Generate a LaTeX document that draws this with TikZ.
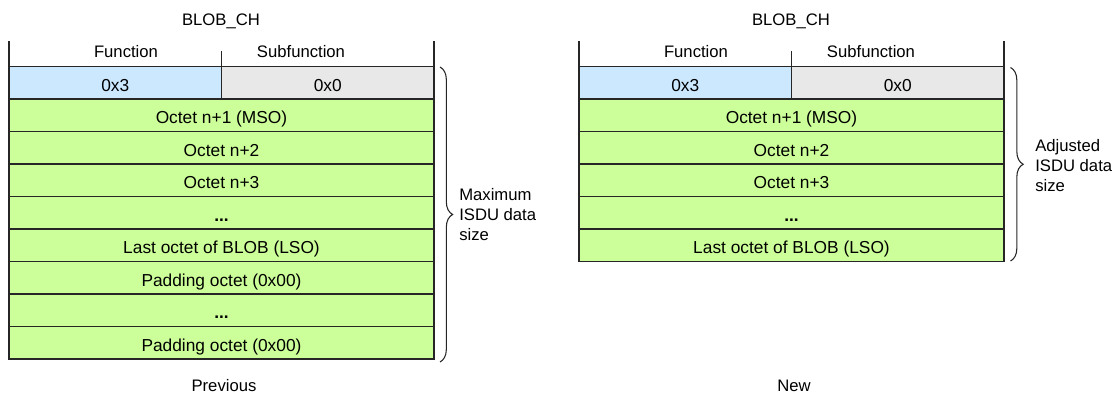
\documentclass[tikz,border=0pt]{standalone}
\usepackage{fontspec}
\setmainfont{Liberation Sans}
\usetikzlibrary{positioning,decorations.pathreplacing}
\definecolor{fnb}{HTML}{CCE8FF}
\definecolor{sfg}{HTML}{E8E8E8}
\definecolor{oct}{HTML}{CCFF99}
\definecolor{ln}{HTML}{262626}
\newcommand{\cf}{\fontsize{13}{15.6}\selectfont}
\newcommand{\lf}{\fontsize{12.5}{15}\selectfont}
\tikzset{
  row/.style={draw=ln,line width=1pt,fill=oct,minimum width=318.75pt,minimum height=24.375pt,
    inner sep=0pt,outer sep=0pt,text height=13pt,text depth=0pt,font=\cf},
  half/.style={row,minimum width=159.375pt},
  lbl/.style={font=\lf,inner sep=0pt},
  hl/.style={draw=ln,line width=1pt},
  br/.style={draw=ln,line width=0.8pt,decorate,decoration={brace,amplitude=9.5pt}},
}

\begin{document}
\begin{tikzpicture}[x=0.75pt,y=-0.75pt]
\useasboundingbox (0,0) rectangle (1116,397);
% previous layout
\node[lbl,anchor=base] (ptit) at (221,25.7) {BLOB\_CH};
\node[half,fill=fnb,anchor=north west] (pfn) at (9,66.5) {0x3};
\node[half,fill=sfg,right=0pt of pfn] (psf) {0x0};
\draw[hl] (pfn.north west) -- ++(0,-26);
\draw[hl] (psf.north east) -- ++(0,-26);
\draw[hl] (pfn.north east) -- ++(0,-15.5);
\node[lbl,anchor=base] (pfun) at (126,57.3) {Function};
\node[lbl,anchor=base] (psub) at (301,57.3) {Subfunction};
\node[row,anchor=north west] (p1) at (pfn.south west) {Octet n+1 (MSO)};
\node[row,below=0pt of p1] (p2) {Octet n+2};
\node[row,below=0pt of p2] (p3) {Octet n+3};
\node[row,below=0pt of p3] (p4) {\textbf{...}};
\node[row,below=0pt of p4] (p5) {Last octet of BLOB (LSO)};
\node[row,below=0pt of p5] (p6) {Padding octet (0x00)};
\node[row,below=0pt of p6] (p7) {\textbf{...}};
\node[row,below=0pt of p7] (p8) {Padding octet (0x00)};
\coordinate (pbt) at (440,67);
\coordinate (pbb) at (440,362);
\draw[br] (pbt) -- (pbb);
\node[lbl,align=left,anchor=west] (pmax) at (459,215) {Maximum\\ISDU data\\size};
\node[lbl,anchor=base] (pcap) at (224,391.7) {Previous};
% new layout
\begin{scope}[xshift=427.5pt]
\node[lbl,anchor=base] (ntit) at (221,25.7) {BLOB\_CH};
\node[half,fill=fnb,anchor=north west] (nfn) at (9,66.5) {0x3};
\node[half,fill=sfg,right=0pt of nfn] (nsf) {0x0};
\draw[hl] (nfn.north west) -- ++(0,-26);
\draw[hl] (nsf.north east) -- ++(0,-26);
\draw[hl] (nfn.north east) -- ++(0,-15.5);
\node[lbl,anchor=base] (nfun) at (126,57.3) {Function};
\node[lbl,anchor=base] (nsub) at (301,57.3) {Subfunction};
\node[row,anchor=north west] (n1) at (nfn.south west) {Octet n+1 (MSO)};
\node[row,below=0pt of n1] (n2) {Octet n+2};
\node[row,below=0pt of n2] (n3) {Octet n+3};
\node[row,below=0pt of n3] (n4) {\textbf{...}};
\node[row,below=0pt of n4] (n5) {Last octet of BLOB (LSO)};
\coordinate (nbt) at (440.5,67.5);
\coordinate (nbb) at (440.5,261);
\draw[br] (nbt) -- (nbb);
\node[lbl,align=left,anchor=west] (nadj) at (465,166) {Adjusted\\ISDU data\\size};
\node[lbl,anchor=base] (ncap) at (224,391.7) {New};
\end{scope}
\end{tikzpicture}
\end{document}
